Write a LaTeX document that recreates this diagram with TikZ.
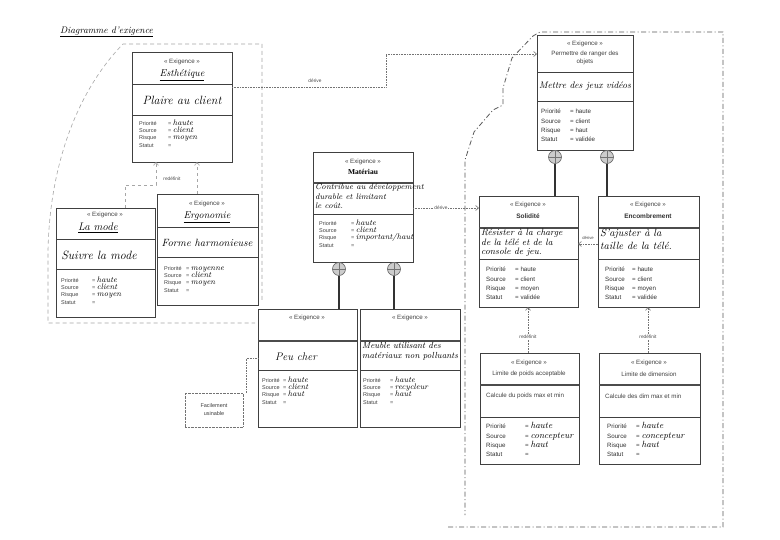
\documentclass[tikz,border=0pt]{standalone}
\usepackage{fontspec}
\setsansfont{Liberation Sans}
\newfontfamily\timesfont{Liberation Serif}
\usetikzlibrary{arrows.meta,calc}
\newcommand\hf[1]{\rmfamily\itshape\fontsize{#1}{#1}\selectfont}
\newcommand\hff[2]{\rmfamily\itshape\fontsize{#1}{#2}\selectfont}
\newcommand\hv[1]{\smash{\color{black}\fontsize{8}{8}\selectfont\rmfamily\itshape #1}}
\newcommand\hvb[1]{\smash{\color{black}\fontsize{9}{9}\selectfont\rmfamily\itshape #1}}
\newcommand\attrs[5]{\makebox[#1pt][l]{Priorité}= #2\\\makebox[#1pt][l]{Source}= #3\\\makebox[#1pt][l]{Risque}= #4\\\makebox[#1pt][l]{Statut}= #5}
\newcommand\rbox[8][divider]{%
  \node[box, minimum width=#5, minimum height=#6, anchor=north west] (#2) at (#3,#4) {};
  \draw[#1] ([yshift=-#7pt]#2.north west) -- ([yshift=-#7pt]#2.north east);
  \draw[divider] ([yshift=-#8pt]#2.north west) -- ([yshift=-#8pt]#2.north east);
}
\tikzset{
  box/.style={draw=black!75, line width=0.8pt, fill=white, inner sep=0pt, outer sep=0pt},
  divider/.style={draw=black!75, line width=0.8pt},
  thickdiv/.style={draw=black!70, line width=1.8pt},
  hdr/.style={font=\sffamily\fontsize{6.2}{6.5}\selectfont, text=black!75, inner sep=0pt},
  hname/.style={font=\sffamily\fontsize{6.2}{8.5}\selectfont, text=black!75, inner sep=0pt, align=center},
  attrA/.style={font=\sffamily\fontsize{5.5}{7.3}\selectfont, text=black!75, align=left, inner sep=0pt, anchor=north west},
  attrB/.style={font=\sffamily\fontsize{6.2}{9.3}\selectfont, text=black!80, align=left, inner sep=0pt, anchor=north west},
  lbl/.style={font=\sffamily\fontsize{4.8}{5}\selectfont, text=black!70, inner sep=0.6pt},
  dep/.style={densely dotted, draw=black!55, line width=0.6pt, -{Straight Barb[length=3pt,width=5pt]}},
  dep2/.style={dashed, draw=black!35, line width=0.6pt, -{Straight Barb[length=3pt,width=5pt]}},
  dotc/.style={densely dotted, draw=black!55, line width=0.6pt},
  region/.style={draw=black!35, line width=0.6pt, dash pattern=on 4pt off 3pt},
  region2/.style={draw=black!65, line width=0.8pt, dash pattern=on 5pt off 2.5pt on 1pt off 2.5pt},
  cont/.style={circle, draw=black!60, fill=black!20, minimum size=13pt, inner sep=0pt, line width=0.6pt},
  compo/.style={draw=black!80, line width=2pt},
}
\begin{document}
\begin{tikzpicture}[x=1pt,y=-1pt]
\useasboundingbox[fill=white] (0,0) rectangle (780,540);

% title
\node[anchor=west, inner sep=0pt, font={\hf{9.5}}] (title) at (60,32) {\underline{Diagramme d'exigence}};

% regions
\draw[region] (262,300) -- (262,44) -- (123,44) .. controls (80,88) and (50,160) .. (48,250) -- (48,323) -- (255,323);
\draw[region2] (448,527) -- (723,527) -- (723,32) -- (540,32) -- (533,36) -- (512,58) -- (503,88) -- (503,105) -- (493,110) -- (474,132) -- (465,160) -- (465,515);

% boxes
\rbox{esth}{132}{52}{100}{110}{32}{63}
\rbox{mode}{56}{208}{99}{109}{31}{61}
\rbox{ergo}{157}{194}{101}{111}{33}{63}
\rbox[thickdiv]{mat}{313}{152}{100}{110}{31}{62}
\rbox[thickdiv]{peu}{258}{309}{99}{118}{32}{61}
\rbox[thickdiv]{meub}{360}{309}{100}{118}{32}{61}
\rbox{perm}{537}{35}{96}{115}{37}{66}
\rbox[thickdiv]{sol}{479}{196}{99}{111}{32}{63}
\rbox[thickdiv]{enc}{598}{196}{101}{111}{32}{63}
\rbox[thickdiv]{lpoids}{480}{353}{99}{111}{32}{64}
\rbox[thickdiv]{ldim}{599}{353}{101}{111}{32}{64}

% Esthetique
\node[hdr] (esth-h) at (182,62) {« Exigence »};
\node[inner sep=0pt, font={\hf{10}}] (esth-n) at (182,75) {\underline{Esthétique}};
\node[inner sep=0pt, font={\hf{12}}] (esth-d) at (182,100) {Plaire au client};
\node[attrA] (esth-a) at (139,121) {\attrs{29}{\hv{haute}}{\hv{client}}{\hv{moyen}}{}};

% La mode
\node[hdr] (mode-h) at (105,215) {« Exigence »};
\node[inner sep=0pt, font={\hf{11}}] (mode-n) at (98,228) {\underline{La mode}};
\node[inner sep=0pt, font={\hf{12}}] (mode-d) at (99,255) {Suivre la mode};
\node[attrA] (mode-a) at (61,278) {\attrs{31}{\hv{haute}}{\hv{client}}{\hv{moyen}}{}};

% Ergonomie
\node[hdr] (ergo-h) at (207,204) {« Exigence »};
\node[inner sep=0pt, font={\hf{10}}] (ergo-n) at (207,217) {\underline{Ergonomie}};
\node[inner sep=0pt, font={\hf{10.5}}] (ergo-d) at (207,243) {Forme harmonieuse};
\node[attrA] (ergo-a) at (164,266) {\attrs{22}{\hv{moyenne}}{\hv{client}}{\hv{moyen}}{}};

% Materiau
\node[hdr] (mat-h) at (363,162) {« Exigence »};
\node[inner sep=0pt, font=\timesfont\bfseries\fontsize{7.5}{8}\selectfont] (mat-n) at (363,172) {Matériau};
\node[inner sep=0pt, anchor=north west, align=left, font={\hff{8.2}{9.5}}] (mat-d) at (315,184) {Contribue au développement\\durable et limitant\\le coût.};
\node[attrA] (mat-a) at (319,221) {\attrs{32}{\hv{haute}}{\hv{client}}{\hv{important/haut}}{}};

% Peu cher
\node[hdr] (peu-h) at (307,318) {« Exigence »};
\node[inner sep=0pt, font={\hf{11}}] (peu-d) at (296,357) {Peu cher};
\node[attrA] (peu-a) at (262,378) {\attrs{21}{\hv{haute}}{\hv{client}}{\hv{haut}}{}};

% Meuble
\node[hdr] (meub-h) at (410,318) {« Exigence »};
\node[inner sep=0pt, anchor=north west, align=left, font={\hff{8.8}{10}}] (meub-d) at (362,342) {Meuble utilisant des\\matériaux non polluants};
\node[attrA] (meub-a) at (363,378) {\attrs{27}{\hv{haute}}{\hv{recycleur}}{\hv{haut}}{}};

% Permettre
\node[hdr] (perm-h) at (585,44) {« Exigence »};
\node[hname] (perm-n) at (585,58) {Permettre de ranger des\\objets};
\node[inner sep=0pt, font={\hf{9.5}}] (perm-d) at (585,86) {Mettre des jeux vidéos};
\node[attrB] (perm-a) at (541,109) {\attrs{29}{haute}{client}{haut}{validée}};

% Solidite
\node[hdr] (sol-h) at (528,205) {« Exigence »};
\node[inner sep=0pt, font=\sffamily\bfseries\fontsize{6.5}{7}\selectfont, text=black!80] (sol-n) at (528,216) {Solidité};
\node[inner sep=0pt, anchor=north west, align=left, font={\hff{9.2}{9.5}}] (sol-d) at (481,229) {Résister à la charge\\de la télé et de la\\console de jeu.};
\node[attrB] (sol-a) at (486,267) {\attrs{29}{haute}{client}{moyen}{validée}};

% Encombrement
\node[hdr] (enc-h) at (648,205) {« Exigence »};
\node[inner sep=0pt, font=\sffamily\bfseries\fontsize{6.5}{7}\selectfont, text=black!80] (enc-n) at (648,216) {Encombrement};
\node[inner sep=0pt, anchor=north west, align=left, font={\hff{10.5}{13}}] (enc-d) at (600,229) {S'ajuster à la\\taille de la télé.};
\node[attrB] (enc-a) at (605,267) {\attrs{27}{haute}{client}{moyen}{validée}};

% Limite de poids
\node[hdr] (lpoids-h) at (529,363) {« Exigence »};
\node[hname] (lpoids-n) at (529,374) {Limite de poids acceptable};
\node[inner sep=0pt, anchor=west, font=\sffamily\fontsize{6.2}{7}\selectfont, text=black!75] (lpoids-d) at (486,396) {Calcule du poids max et min};
\node[attrB] (lpoids-a) at (486,424) {\attrs{39}{\hvb{haute}}{\hvb{concepteur}}{\hvb{haut}}{}};

% Limite de dimension
\node[hdr] (ldim-h) at (649,363) {« Exigence »};
\node[hname] (ldim-n) at (649,374) {Limite de dimension};
\node[inner sep=0pt, anchor=west, font=\sffamily\fontsize{6.2}{7}\selectfont, text=black!75] (ldim-d) at (605,396) {Calcule des dim max et min};
\node[attrB] (ldim-a) at (607,424) {\attrs{29}{\hvb{haute}}{\hvb{concepteur}}{\hvb{haut}}{}};

% containment
\node[cont] (c1) at (339,269) {};
\node[cont] (c2) at (394,269) {};
\node[cont] (c3) at (555,157) {};
\node[cont] (c4) at (607,157) {};
\foreach \c in {c1,c2,c3,c4}{\draw[black!55, line width=0.8pt] (\c.north) -- (\c.south) (\c.west) -- (\c.east);}
\draw[compo] (c1.south) -- (c1 |- peu.north);
\draw[compo] (c2.south) -- (c2 |- meub.north);
\draw[compo] (c3.south) -- (c3 |- sol.north);
\draw[compo] (c4.south) -- (c4 |- enc.north);

% derive / redefinit
\draw[dep] ($(esth.north east)+(0,35)$) -| (386,54) -- ($(perm.north west)+(0,19)$);
\node[lbl] (lb1) at (315,81) {dérive};
\draw[dep2] ($(mode.north west)+(69,0)$) |- (156,185) -- ($(esth.south west)+(24,0)$);
\draw[dep2] ($(ergo.north west)+(40,0)$) -- ($(esth.south west)+(65,0)$);
\node[lbl] (lb2) at (172,179) {redéfinit};
\draw[dep] ($(mat.north east)+(0,56)$) -- ($(sol.north west)+(0,12)$);
\node[lbl, fill=white] (lb3) at (441,208) {dérive};
\draw[dep] ($(enc.north west)+(0,48)$) -- ($(sol.north east)+(0,48)$);
\node[lbl, font=\sffamily\fontsize{4.2}{5}\selectfont] (lb4) at (588,238) {dérive};
\draw[dep] ($(lpoids.north west)+(48,0)$) -- ($(sol.south west)+(49,0)$);
\node[lbl, fill=white] (lb5) at (528,337) {redéfinit};
\draw[dep] ($(ldim.north west)+(49,0)$) -- ($(enc.south west)+(50,0)$);
\node[lbl, fill=white] (lb6) at (648,337) {redéfinit};

% facilement usinable
\node[draw=black!55, densely dotted, minimum width=58pt, minimum height=34pt, align=center, inner sep=0pt, font=\sffamily\fontsize{5.5}{8}\selectfont, text=black!75] (usin) at (214,410) {Facilement\\usinable};
\draw[dotc] ($(usin.north east)+(3,0)$) |- ($(peu.north west)+(0,49)$);
\end{tikzpicture}
\end{document}
